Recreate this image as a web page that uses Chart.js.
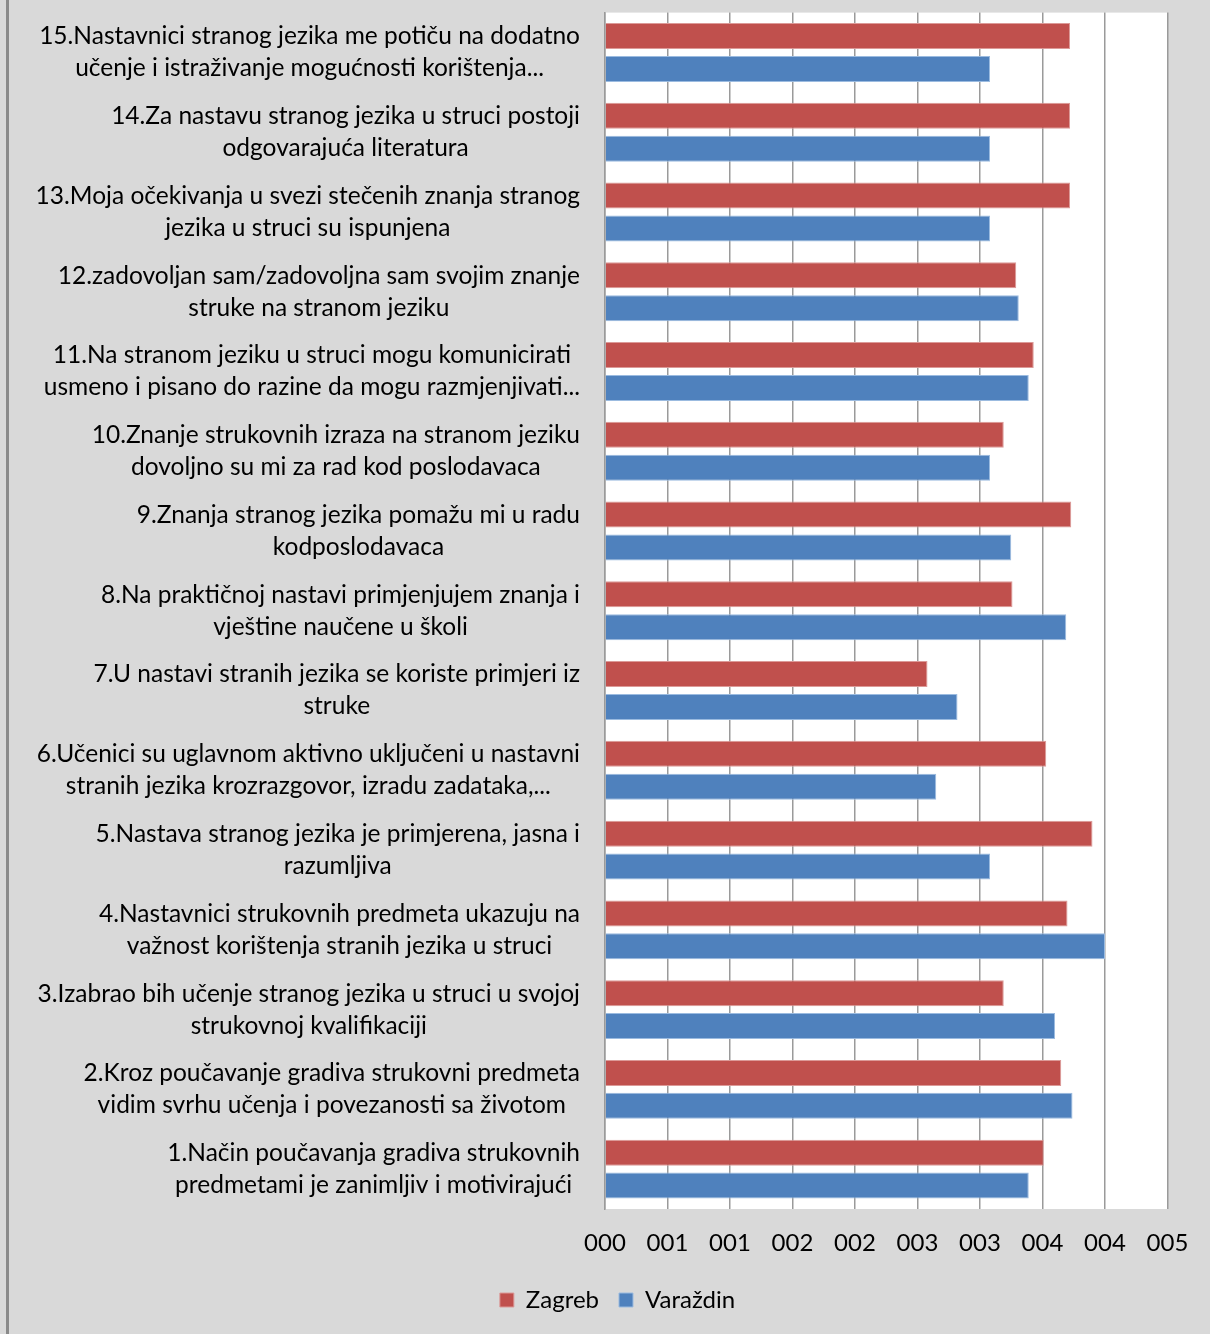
<!DOCTYPE html>
<html>
<head>
<meta charset="utf-8">
<script src="https://cdn.jsdelivr.net/npm/chart.js@4"></script>
<style>
  html, body { margin: 0; padding: 0; background: #d9d9d9; }
  #wrap { width: 1210px; height: 1334px; position: relative; }
  canvas { display: block; }
</style>
</head>
<body>
<div id="wrap"><canvas id="c" width="1210" height="1334"></canvas></div>
<script>
// Survey statements, question 1 to 15 (each wrapped into two lines)
const questions = [
  ["1.Način poučavanja gradiva strukovnih", "predmetami je zanimljiv i motivirajući"],
  ["2.Kroz poučavanje gradiva strukovni predmeta", "vidim svrhu učenja i povezanosti sa životom"],
  ["3.Izabrao bih učenje stranog jezika u struci u svojoj", "strukovnoj kvalifikaciji"],
  ["4.Nastavnici strukovnih predmeta ukazuju na", "važnost korištenja stranih jezika u struci"],
  ["5.Nastava stranog jezika je primjerena, jasna i", "razumljiva"],
  ["6.Učenici su uglavnom aktivno uključeni u nastavni", "stranih jezika krozrazgovor, izradu zadataka,..."],
  ["7.U nastavi stranih jezika se koriste primjeri iz", "struke"],
  ["8.Na praktičnoj nastavi primjenjujem znanja i", "vještine naučene u školi"],
  ["9.Znanja stranog jezika pomažu mi u radu", "kodposlodavaca"],
  ["10.Znanje strukovnih izraza na stranom jeziku", "dovoljno su mi za rad kod poslodavaca"],
  ["11.Na stranom jeziku u struci mogu komunicirati", "usmeno i pisano do razine da mogu razmjenjivati..."],
  ["12.zadovoljan sam/zadovoljna sam svojim znanje", "struke na stranom jeziku"],
  ["13.Moja očekivanja u svezi stečenih znanja stranog", "jezika u struci su ispunjena"],
  ["14.Za nastavu stranog jezika u struci postoji", "odgovarajuća literatura"],
  ["15.Nastavnici stranog jezika me potiču na dodatno", "učenje i istraživanje mogućnosti korištenja..."]
];

// Mean scores per question (1..15)
const zagreb   = [3.51, 3.65, 3.19, 3.70, 3.90, 3.53, 2.58, 3.26, 3.73, 3.19, 3.43, 3.29, 3.72, 3.72, 3.72];
const varazdin = [3.39, 3.74, 3.60, 4.00, 3.08, 2.65, 2.82, 3.69, 3.25, 3.08, 3.39, 3.31, 3.08, 3.08, 3.08];

const seriesNames = ["Zagreb", "Varaždin"];
const xTickLabels = ["000", "001", "001", "002", "002", "003", "003", "004", "004", "005"];

// Question 15 is listed first (top of the chart)
const order = questions.map((_, i) => questions.length - 1 - i);
const labels = order.map(i => questions[i]);
const zagrebRows = order.map(i => zagreb[i]);
const varazdinRows = order.map(i => varazdin[i]);

const FONT = "Lato, 'Open Sans', sans-serif";

const frame = {
  id: "frame",
  beforeDraw(chart) {
    const { ctx, chartArea: a } = chart;
    ctx.save();
    ctx.fillStyle = "#d9d9d9";
    ctx.fillRect(0, 0, chart.width, chart.height);
    ctx.fillStyle = "#8a8a8a";
    ctx.fillRect(6, 0, 3, chart.height);
    ctx.fillStyle = "#ffffff";
    ctx.fillRect(a.left, a.top, a.right - a.left, a.bottom - a.top);
    ctx.restore();
  }
};

// Category labels: two lines each, centred on each other, block right-aligned to the axis
const categoryLabels = {
  id: "categoryLabels",
  afterDraw(chart) {
    const { ctx } = chart;
    const y = chart.scales.y;
    const rightEdge = chart.chartArea.left - 25;
    ctx.save();
    ctx.font = "24.5px " + FONT;
    ctx.fillStyle = "#000";
    ctx.textAlign = "center";
    ctx.textBaseline = "middle";
    labels.forEach((lines, i) => {
      const cy = y.getPixelForTick(i);
      const w = Math.max(...lines.map(l => ctx.measureText(l).width));
      const cx = rightEdge - w / 2;
      const lh = 32;
      lines.forEach((line, k) => {
        ctx.fillText(line, cx, cy + (k - (lines.length - 1) / 2) * lh);
      });
    });
    ctx.restore();
  }
};

new Chart(document.getElementById("c"), {
  type: "bar",
  data: {
    labels: labels,
    datasets: [
      {
        label: seriesNames[0],
        data: zagrebRows,
        backgroundColor: "#c0504d",
        borderColor: "#dc9a98",
        borderWidth: 1,
        categoryPercentage: 0.825,
        barPercentage: 0.79
      },
      {
        label: seriesNames[1],
        data: varazdinRows,
        backgroundColor: "#4f81bd",
        borderColor: "#9bbbe0",
        borderWidth: 1,
        categoryPercentage: 0.825,
        barPercentage: 0.79
      }
    ]
  },
  options: {
    indexAxis: "y",
    responsive: false,
    animation: false,
    devicePixelRatio: 1,
    layout: { padding: { top: 12.6, left: 67.5, right: 42.5, bottom: 12 } },
    scales: {
      x: {
        min: 0,
        max: 4.5,
        ticks: {
          stepSize: 0.5,
          autoSkip: false,
          maxRotation: 0,
          padding: 20,
          color: "#000",
          font: { family: FONT, size: 24 },
          callback: (v, i) => xTickLabels[i]
        },
        grid: { color: "#9a9a9a", lineWidth: 1.5, drawTicks: false },
        border: { display: false },
        afterFit(s) { s.height = 59; }
      },
      y: {
        ticks: { display: false },
        grid: { display: false },
        border: { color: "#9a9a9a", width: 1.5 },
        afterFit(s) { s.width = 537.5; }
      }
    },
    plugins: {
      legend: {
        position: "bottom",
        labels: {
          boxWidth: 14,
          boxHeight: 14,
          padding: 20,
          color: "#000",
          font: { family: FONT, size: 24 }
        }
      },
      tooltip: { enabled: false }
    }
  },
  plugins: [frame, categoryLabels]
});
</script>
</body>
</html>
